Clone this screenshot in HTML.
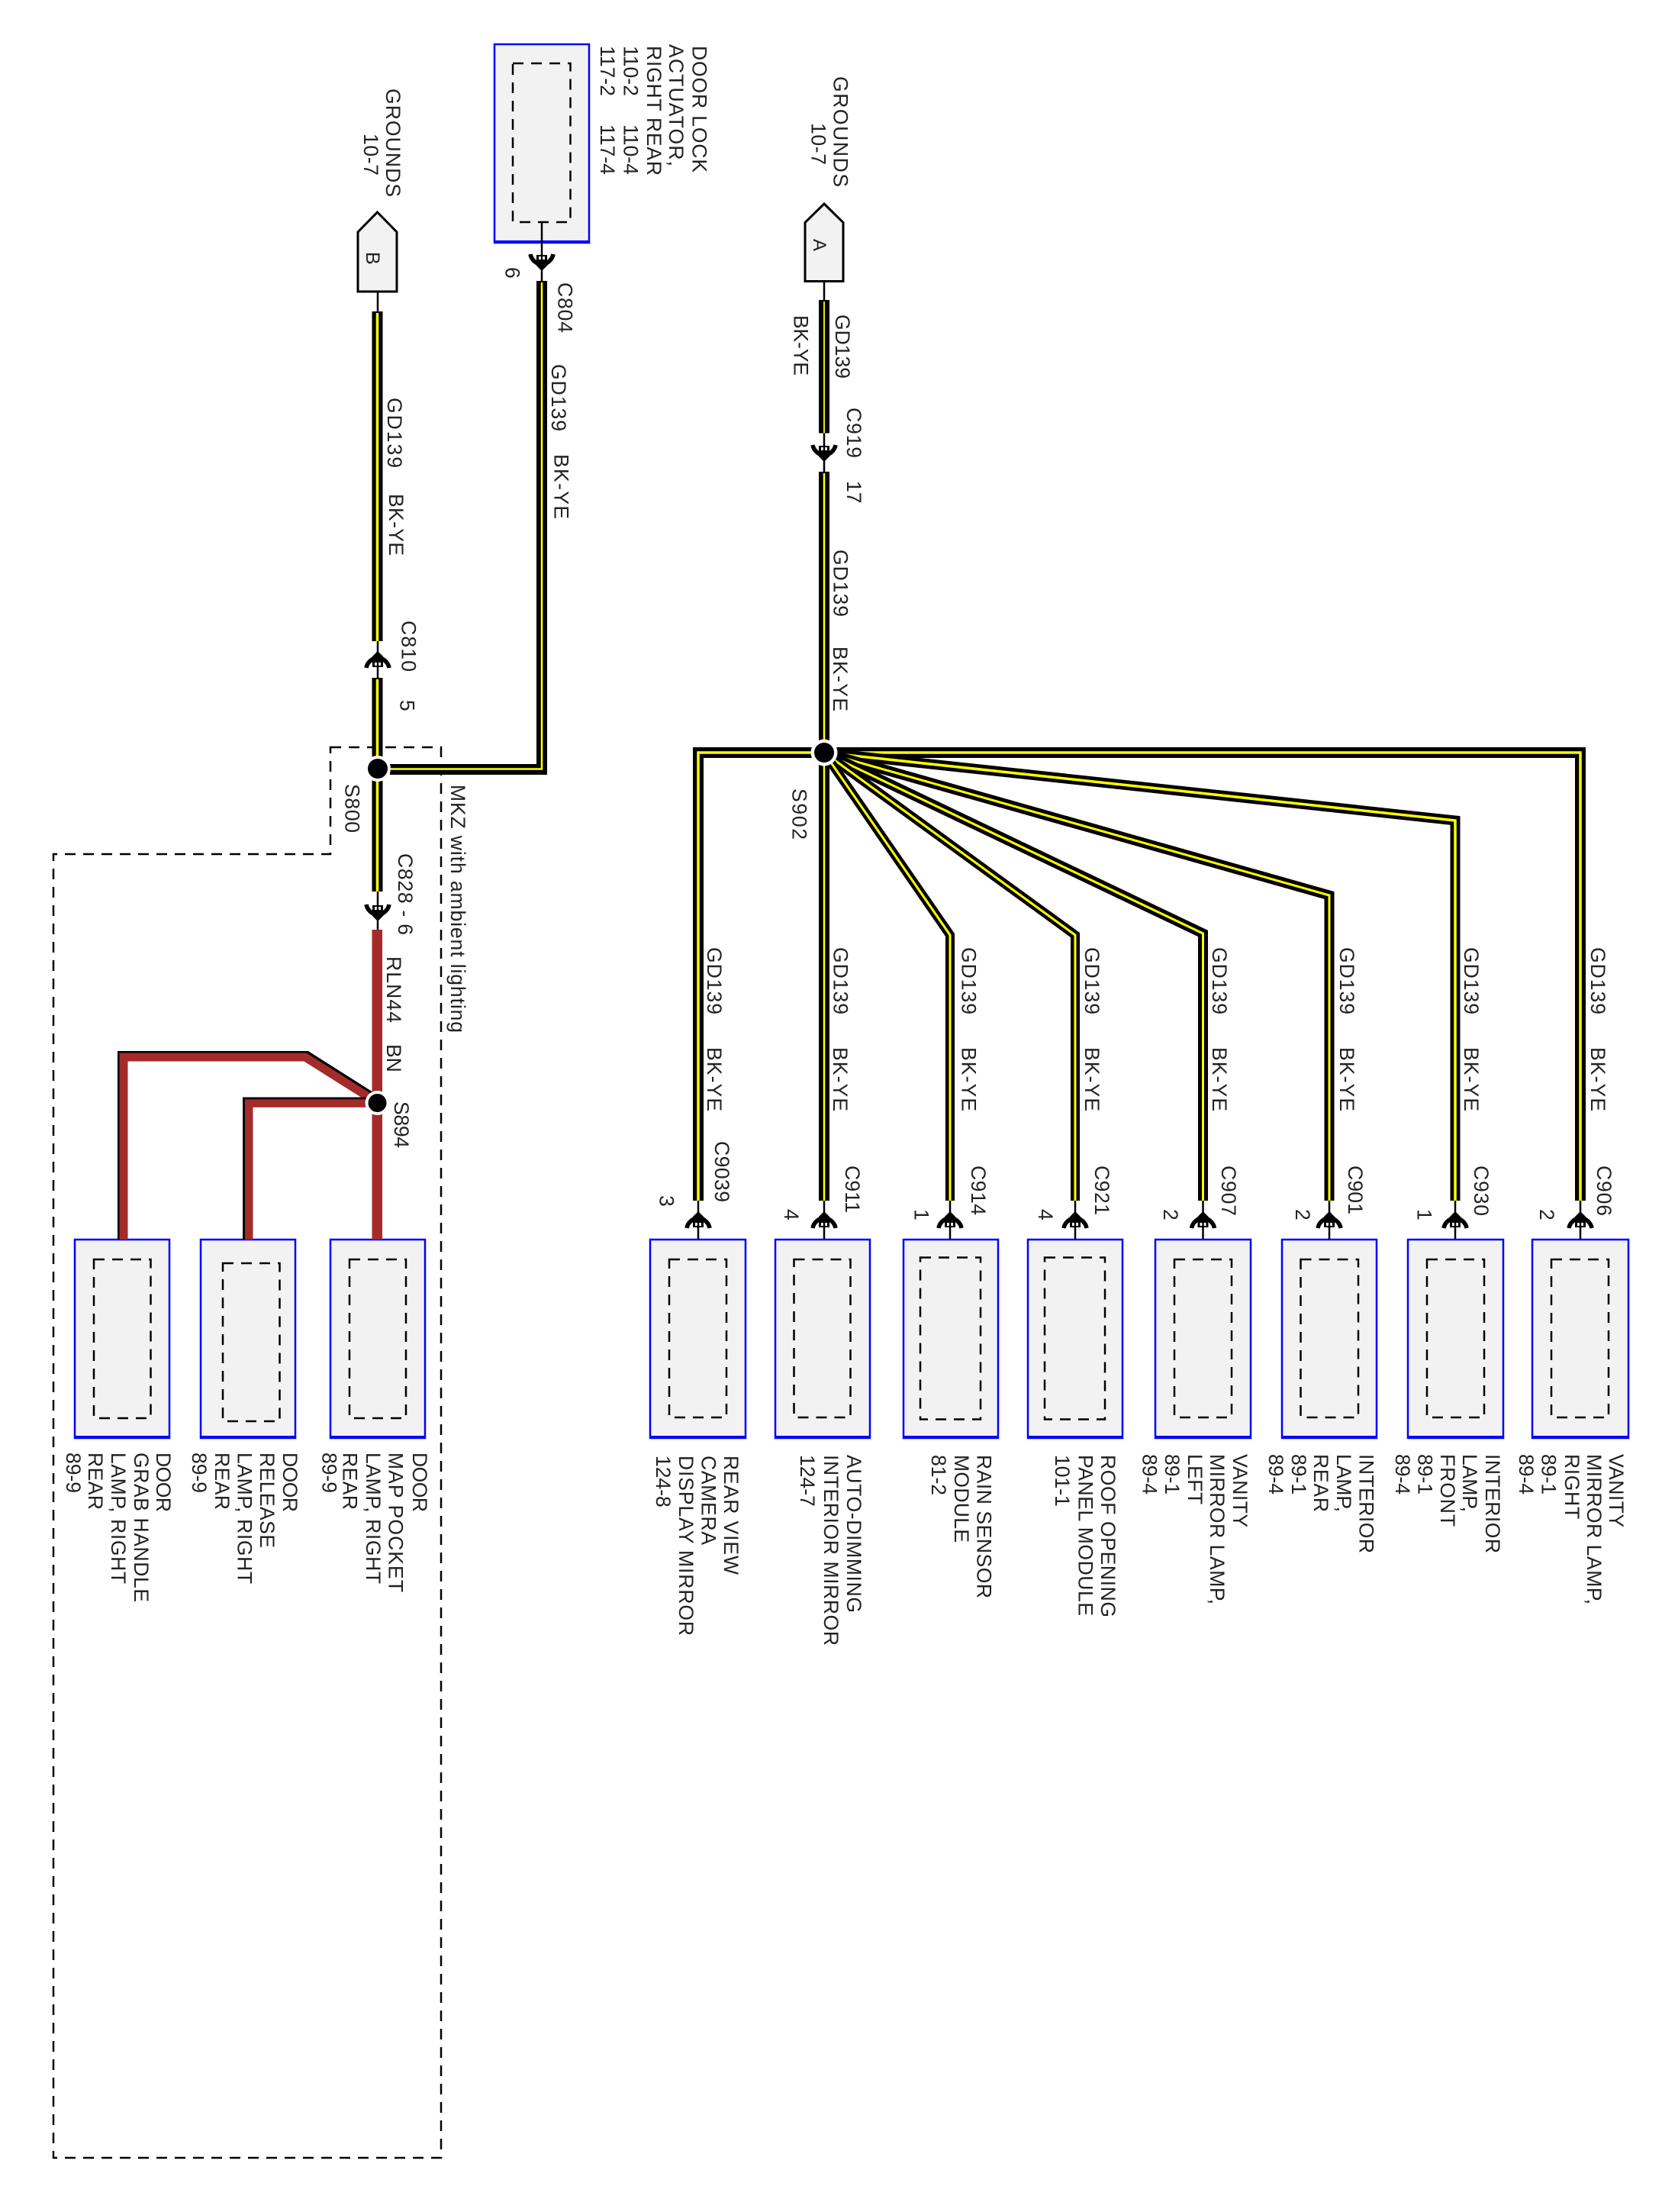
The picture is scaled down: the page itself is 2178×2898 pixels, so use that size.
<!DOCTYPE html>
<html><head><meta charset="utf-8"><title>Wiring diagram</title>
<style>
html,body{margin:0;padding:0;background:#fff}
svg{display:block}
text{font-family:"Liberation Sans",sans-serif;font-size:26.5px;fill:#222}
.b{fill:#f2f2f2;stroke:#00f;stroke-width:2.5}
.d{fill:none;stroke:#000;stroke-width:2.5;stroke-dasharray:14 10}
.k{fill:none;stroke:#000;stroke-width:14;stroke-linejoin:miter}
.y{fill:none;stroke:#ff0;stroke-width:3.5;stroke-linejoin:miter}
.s{stroke:#000;stroke-width:2.5;fill:none}
.c{fill:none;stroke:#000;stroke-width:5.5}
</style></head><body>
<svg xmlns="http://www.w3.org/2000/svg" width="2178" height="2898" viewBox="0 0 2178 2898">
<defs>
<g id="up"><path class="c" d="M-15,20 C-14,14 -10,10 -4,7"/><path class="c" d="M15,20 C14,14 10,10 4,7"/><path d="M0,-2 L7,5 L7,19 L-7,19 L-7,5 Z" fill="#000"/><rect x="-4" y="13" width="8" height="4" fill="#fff"/><rect x="-1.2" y="12" width="2.4" height="8" fill="#000"/></g>
<g id="dn"><path class="c" d="M-15,0 C-14,6 -10,10 -4,13"/><path class="c" d="M15,0 C14,6 10,10 4,13"/><path d="M0,22 L7,15 L7,1 L-7,1 L-7,15 Z" fill="#000"/><rect x="-4" y="3" width="8" height="4" fill="#fff"/><rect x="-1.2" y="0" width="2.4" height="8" fill="#000"/></g>
</defs>
<rect width="2178" height="2898" fill="#fff"/>

<!-- outer dashed region -->
<path d="M433,979 H578 V2827 H70 V1119 H433 Z" fill="none" stroke="#000" stroke-width="2.5" stroke-dasharray="14 10"/>

<!-- stems -->
<path class="s" d="M495,382 V1218 M710,291 V368 M1080,368 V618 M160,1624 V1650 M325,1624 V1655 M495,1624 V1650 M915,1573 V1650 M1080,1573 V1650 M1245,1573 V1648 M1409,1573 V1648 M1576.5,1573 V1650 M1742,1573 V1650 M1907,1573 V1650 M2071,1573 V1650"/>

<!-- boxes -->
<rect class="b" x="648" y="58" width="124" height="260"/><rect x="647" y="315" width="126" height="4" fill="#00f"/>
<path class="d" d="M672,83 H747.5 V291 H672 Z"/>
<path class="s" d="M710,291 V319"/>

<rect class="b" x="98" y="1624" width="124" height="260"/><rect x="97" y="1881" width="126" height="4" fill="#00f"/><path class="d" d="M123,1650 H197.5 V1858 H123 Z"/>
<rect class="b" x="263" y="1624" width="124" height="260"/><rect x="262" y="1881" width="126" height="4" fill="#00f"/><path class="d" d="M292,1655 H366.5 V1862 H292 Z"/>
<rect class="b" x="433" y="1624" width="124" height="260"/><rect x="432" y="1881" width="126" height="4" fill="#00f"/><path class="d" d="M458,1650 H532 V1858 H458 Z"/>

<rect class="b" x="852" y="1624" width="125" height="260"/><rect x="851" y="1881" width="127" height="4" fill="#00f"/><path class="d" d="M877,1650 H952 V1857 H877 Z"/>
<rect class="b" x="1016" y="1624" width="124" height="260"/><rect x="1015" y="1881" width="126" height="4" fill="#00f"/><path class="d" d="M1040.5,1650 H1114.5 V1857 H1040.5 Z"/>
<rect class="b" x="1184" y="1624" width="124" height="260"/><rect x="1183" y="1881" width="126" height="4" fill="#00f"/><path class="d" d="M1206,1647.5 H1285 V1859.5 H1206 Z"/>
<rect class="b" x="1347" y="1624" width="124" height="260"/><rect x="1346" y="1881" width="126" height="4" fill="#00f"/><path class="d" d="M1369,1647.5 H1448 V1859.5 H1369 Z"/>
<rect class="b" x="1514" y="1624" width="125" height="260"/><rect x="1513" y="1881" width="127" height="4" fill="#00f"/><path class="d" d="M1539,1650 H1614 V1857 H1539 Z"/>
<rect class="b" x="1680" y="1624" width="124" height="260"/><rect x="1679" y="1881" width="126" height="4" fill="#00f"/><path class="d" d="M1704.5,1650 H1780 V1857 H1704.5 Z"/>
<rect class="b" x="1845" y="1624" width="125" height="260"/><rect x="1844" y="1881" width="127" height="4" fill="#00f"/><path class="d" d="M1870,1650 H1945 V1857 H1870 Z"/>
<rect class="b" x="2008" y="1624" width="126" height="260"/><rect x="2007" y="1881" width="128" height="4" fill="#00f"/><path class="d" d="M2033,1650 H2108 V1857 H2033 Z"/>

<!-- ground flags -->
<path d="M494.5,278 L520,304 V382 H469 V304 Z" fill="#f2f2f2" stroke="#000" stroke-width="3"/>
<path d="M1080,267 L1105,291.5 V368.5 H1055 V291.5 Z" fill="#f2f2f2" stroke="#000" stroke-width="3"/>

<!-- black/yellow wires, left -->
<path class="k" d="M494.5,408 V840"/><path class="y" d="M494.5,410 V840"/>
<path class="k" d="M494.5,888 V1168"/><path class="y" d="M494.5,890 V1168"/>
<path class="k" d="M511,1008 H710 V368"/><path fill="none" stroke="#ff0" stroke-width="2.5" d="M511,1007.5 H710 V370"/>

<!-- brown wires -->
<rect x="487.5" y="1218" width="13.5" height="406" fill="#a52a2a"/>
<path d="M160.5,1624 V1383.5 H402 L488,1438" fill="none" stroke="#000" stroke-width="13"/>
<path d="M162,1624 V1385 H400 L492,1443" fill="none" stroke="#a52a2a" stroke-width="11"/>
<path d="M324.5,1624 V1444 H480" fill="none" stroke="#000" stroke-width="13"/>
<path d="M326.2,1624 V1445.5 H482" fill="none" stroke="#a52a2a" stroke-width="10.5"/>

<!-- black/yellow wires, right -->
<path class="k" d="M1080,393 V567.5"/><path fill="none" stroke="#ff0" stroke-width="1.8" d="M1080,395 V567.5"/>
<path class="k" d="M1080,618 V1573"/><path fill="none" stroke="#ff0" stroke-width="2.5" d="M1080,620 V1573"/>
<path class="k" d="M1080,986 H915 V1573"/><path class="y" d="M1080,986 H915 V1573"/>
<path class="k" d="M1080,986 H2071 V1573"/><path class="y" d="M1080,986 H2071 V1573"/>
<path class="k" style="stroke-width:13" d="M1080,986 L1907,1075 V1573"/><path class="y" d="M1080,986 L1907,1075 V1573"/>
<path class="k" style="stroke-width:13" d="M1080,986 L1742,1173 V1573"/><path class="y" d="M1080,986 L1742,1173 V1573" style="stroke-width:3"/>
<path class="k" style="stroke-width:13" d="M1080,986 L1576.5,1223 V1573"/><path class="y" d="M1080,986 L1576.5,1223 V1573" style="stroke-width:3"/>
<path class="k" style="stroke-width:12" d="M1080,986 L1409,1225 V1573"/><path class="y" d="M1080,986 L1409,1225 V1573" style="stroke-width:3"/>
<path class="k" style="stroke-width:12" d="M1080,986 L1245,1225 V1573"/><path class="y" d="M1080,986 L1245,1225 V1573" style="stroke-width:3"/>

<!-- splices -->
<circle cx="495" cy="1007" r="17" fill="#fff"/><circle cx="495" cy="1007" r="13" fill="#000"/>
<circle cx="494.5" cy="1445" r="16" fill="#fff"/><circle cx="494.5" cy="1445" r="12" fill="#000"/>
<circle cx="1080" cy="986" r="17.5" fill="#fff"/><circle cx="1080" cy="986" r="13" fill="#000"/>

<!-- connectors -->
<use href="#dn" x="710" y="333"/>
<use href="#up" x="495" y="855"/>
<use href="#dn" x="495" y="1185"/>
<use href="#dn" x="1080" y="583"/>
<use href="#up" x="915" y="1589"/>
<use href="#up" x="1080" y="1589"/>
<use href="#up" x="1245" y="1589"/>
<use href="#up" x="1409" y="1589"/>
<use href="#up" x="1576.5" y="1589"/>
<use href="#up" x="1742" y="1589"/>
<use href="#up" x="1907" y="1589"/>
<use href="#up" x="2071" y="1589"/>

<!-- top labels -->
<text transform="translate(907.5,60) rotate(90)" textLength="166">DOOR LOCK</text>
<text transform="translate(877,58) rotate(90)" textLength="160">ACTUATOR,</text>
<text transform="translate(848,60) rotate(90)" textLength="170">RIGHT REAR</text>
<text transform="translate(817.5,60) rotate(90)">110-2</text>
<text transform="translate(817.5,163) rotate(90)">110-4</text>
<text transform="translate(787,60) rotate(90)">117-2</text>
<text transform="translate(787,163) rotate(90)">117-4</text>
<text transform="translate(506,116) rotate(90)" textLength="142">GROUNDS</text>
<text transform="translate(477,175) rotate(90)" textLength="55">10-7</text>
<text transform="translate(480,330) rotate(90)" style="font-size:25px">B</text>
<text transform="translate(1066,313) rotate(90)" style="font-size:24px">A</text>
<text transform="translate(1092.5,100) rotate(90)" textLength="145">GROUNDS</text>
<text transform="translate(1063.5,161) rotate(90)" textLength="55">10-7</text>

<!-- wire labels -->
<text transform="translate(731.5,370) rotate(90)" textLength="66">C804</text>
<text transform="translate(662.5,350) rotate(90)">6</text>
<text transform="translate(723,477) rotate(90)" textLength="88">GD139</text>
<text transform="translate(726.5,595) rotate(90)" textLength="85">BK-YE</text>
<text transform="translate(508,521) rotate(90)" textLength="92">GD139</text>
<text transform="translate(510,647) rotate(90)" textLength="81">BK-YE</text>
<text transform="translate(526.5,813) rotate(90)" textLength="67">C810</text>
<text transform="translate(524.5,917) rotate(90)">5</text>
<text transform="translate(452.5,1027) rotate(90)" textLength="64">S800</text>
<text transform="translate(522,1118) rotate(90)" textLength="107">C828 - 6</text>
<text transform="translate(591,1028) rotate(90)" textLength="325">MKZ with ambient lighting</text>
<text transform="translate(507,1253) rotate(90)" textLength="87">RLN44</text>
<text transform="translate(507,1368) rotate(90)">BN</text>
<text transform="translate(517,1443) rotate(90)" textLength="61">S894</text>
<text transform="translate(1038.5,1033) rotate(90)" textLength="67">S902</text>
<text transform="translate(1095,412) rotate(90)" textLength="84">GD139</text>
<text transform="translate(1040.5,413) rotate(90)" textLength="79">BK-YE</text>
<text transform="translate(1110,534) rotate(90)" textLength="66">C919</text>
<text transform="translate(1110,630) rotate(90)">17</text>
<text transform="translate(1092.5,720) rotate(90)" textLength="88">GD139</text>
<text transform="translate(1092,847) rotate(90)" textLength="85">BK-YE</text>

<text transform="translate(927,1241) rotate(90)" textLength="88">GD139</text><text transform="translate(927,1372) rotate(90)" textLength="84">BK-YE</text>
<text transform="translate(1092.5,1241) rotate(90)" textLength="88">GD139</text><text transform="translate(1092,1372) rotate(90)" textLength="84">BK-YE</text>
<text transform="translate(1260.5,1241) rotate(90)" textLength="88">GD139</text><text transform="translate(1260.5,1372) rotate(90)" textLength="84">BK-YE</text>
<text transform="translate(1422,1241) rotate(90)" textLength="88">GD139</text><text transform="translate(1422,1372) rotate(90)" textLength="84">BK-YE</text>
<text transform="translate(1589,1241) rotate(90)" textLength="88">GD139</text><text transform="translate(1589,1372) rotate(90)" textLength="84">BK-YE</text>
<text transform="translate(1756,1241) rotate(90)" textLength="88">GD139</text><text transform="translate(1756,1372) rotate(90)" textLength="84">BK-YE</text>
<text transform="translate(1919,1241) rotate(90)" textLength="88">GD139</text><text transform="translate(1919,1372) rotate(90)" textLength="84">BK-YE</text>
<text transform="translate(2085,1241) rotate(90)" textLength="88">GD139</text><text transform="translate(2085,1372) rotate(90)" textLength="84">BK-YE</text>

<text transform="translate(937,1495) rotate(90)" textLength="80">C9039</text><text transform="translate(864.5,1566) rotate(90)">3</text>
<text transform="translate(1108,1527) rotate(90)" textLength="62">C911</text><text transform="translate(1028,1584) rotate(90)">4</text>
<text transform="translate(1273,1527) rotate(90)" textLength="65">C914</text><text transform="translate(1198.5,1584) rotate(90)">1</text>
<text transform="translate(1435,1527) rotate(90)" textLength="65">C921</text><text transform="translate(1361,1584) rotate(90)">4</text>
<text transform="translate(1601,1527) rotate(90)" textLength="66">C907</text><text transform="translate(1525,1584) rotate(90)">2</text>
<text transform="translate(1767,1527) rotate(90)" textLength="64">C901</text><text transform="translate(1698,1584) rotate(90)">2</text>
<text transform="translate(1932,1527) rotate(90)" textLength="66">C930</text><text transform="translate(1857.5,1584) rotate(90)">1</text>
<text transform="translate(2093,1527) rotate(90)" textLength="66">C906</text><text transform="translate(2018,1584) rotate(90)">2</text>

<!-- component labels, left -->
<text transform="translate(205,1903) rotate(90)" textLength="78">DOOR</text>
<text transform="translate(176,1903) rotate(90)" textLength="196">GRAB HANDLE</text>
<text transform="translate(146,1903) rotate(90)" textLength="172">LAMP, RIGHT</text>
<text transform="translate(116,1903) rotate(90)" textLength="75">REAR</text>
<text transform="translate(87,1903) rotate(90)">89-9</text>

<text transform="translate(371,1903) rotate(90)" textLength="78">DOOR</text>
<text transform="translate(341,1903) rotate(90)" textLength="125">RELEASE</text>
<text transform="translate(311.5,1903) rotate(90)" textLength="172">LAMP, RIGHT</text>
<text transform="translate(282,1903) rotate(90)" textLength="75">REAR</text>
<text transform="translate(252,1903) rotate(90)">89-9</text>

<text transform="translate(541,1903) rotate(90)" textLength="78">DOOR</text>
<text transform="translate(509.5,1903) rotate(90)" textLength="183">MAP POCKET</text>
<text transform="translate(480,1903) rotate(90)" textLength="172">LAMP, RIGHT</text>
<text transform="translate(449.5,1903) rotate(90)" textLength="75">REAR</text>
<text transform="translate(422.5,1903) rotate(90)">89-9</text>

<!-- component labels, right -->
<text transform="translate(949,1907) rotate(90)" textLength="156">REAR VIEW</text>
<text transform="translate(919.5,1907) rotate(90)" textLength="117">CAMERA</text>
<text transform="translate(890,1907) rotate(90)" textLength="236">DISPLAY MIRROR</text>
<text transform="translate(860,1907) rotate(90)">124-8</text>

<text transform="translate(1110,1906) rotate(90)" textLength="207">AUTO-DIMMING</text>
<text transform="translate(1080,1906) rotate(90)" textLength="250">INTERIOR MIRROR</text>
<text transform="translate(1049,1906) rotate(90)">124-7</text>

<text transform="translate(1280.5,1906) rotate(90)" textLength="188">RAIN SENSOR</text>
<text transform="translate(1251,1906) rotate(90)" textLength="115">MODULE</text>
<text transform="translate(1221,1906) rotate(90)">81-2</text>

<text transform="translate(1443,1906) rotate(90)" textLength="213">ROOF OPENING</text>
<text transform="translate(1413.5,1906) rotate(90)" textLength="211">PANEL MODULE</text>
<text transform="translate(1383,1906) rotate(90)">101-1</text>

<text transform="translate(1616,1905) rotate(90)" textLength="96">VANITY</text>
<text transform="translate(1586,1905) rotate(90)" textLength="197">MIRROR LAMP,</text>
<text transform="translate(1557,1905) rotate(90)" textLength="66">LEFT</text>
<text transform="translate(1527,1905) rotate(90)">89-1</text>
<text transform="translate(1497.5,1905) rotate(90)">89-4</text>

<text transform="translate(1781.5,1905) rotate(90)" textLength="130">INTERIOR</text>
<text transform="translate(1752,1905) rotate(90)" textLength="76">LAMP,</text>
<text transform="translate(1722,1905) rotate(90)" textLength="76">REAR</text>
<text transform="translate(1693,1905) rotate(90)">89-1</text>
<text transform="translate(1663,1905) rotate(90)">89-4</text>

<text transform="translate(1947,1905) rotate(90)" textLength="130">INTERIOR</text>
<text transform="translate(1917,1905) rotate(90)" textLength="76">LAMP,</text>
<text transform="translate(1888,1905) rotate(90)" textLength="95">FRONT</text>
<text transform="translate(1858.5,1905) rotate(90)">89-1</text>
<text transform="translate(1829,1905) rotate(90)">89-4</text>

<text transform="translate(2109,1905) rotate(90)" textLength="96">VANITY</text>
<text transform="translate(2080,1905) rotate(90)" textLength="197">MIRROR LAMP,</text>
<text transform="translate(2051,1905) rotate(90)" textLength="85">RIGHT</text>
<text transform="translate(2020.5,1905) rotate(90)">89-1</text>
<text transform="translate(1991,1905) rotate(90)">89-4</text>
</svg>
</body></html>
